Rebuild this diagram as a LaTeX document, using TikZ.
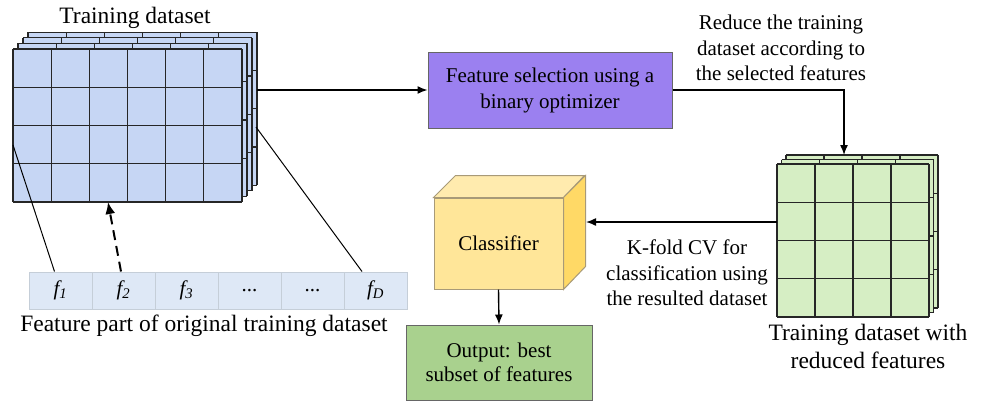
\documentclass[tikz,border=0pt]{standalone}
\usepackage{fontspec}
\setmainfont{Liberation Serif}[Ligatures=TeX]
\newfontfamily\tnr{Liberation Serif}
\usetikzlibrary{arrows.meta,calc}
\definecolor{bluefill}{HTML}{C6D6F4}
\definecolor{greenfill}{HTML}{D6EEC4}
\definecolor{purplefill}{HTML}{9B80F0}
\definecolor{stripfill}{HTML}{DEE8F6}
\definecolor{stripline}{HTML}{C5CED8}
\definecolor{cubefront}{HTML}{FFE699}
\definecolor{cubetop}{HTML}{FFEBAE}
\definecolor{cubeside}{HTML}{FFD966}
\definecolor{cubeline}{HTML}{A89A78}
\definecolor{outfill}{HTML}{A9D18E}
\tikzset{
  gridline/.style={line width=1.3pt, draw=black!85},
  arr/.style={line width=1.4pt, -{Latex[length=10pt,width=8pt]}},
  plain/.style={line width=1pt},
  bigtxt/.style={font=\tnr\fontsize{23.5}{28}\selectfont, align=center, inner sep=0pt},
  txt/.style={font=\tnr\fontsize{21}{25.5}\selectfont, align=center, inner sep=0pt},
  cell/.style={draw=stripline, fill=stripfill, line width=1pt, minimum width=63pt, minimum height=37pt, inner sep=0pt, font=\tnr\fontsize{21}{25}\selectfont\itshape},
  boxnode/.style={draw=black!60, line width=1pt, align=center, inner sep=0pt, font=\tnr\fontsize{21}{26}\selectfont}
}
\begin{document}
\begin{tikzpicture}[x=1pt,y=-1pt]
\useasboundingbox (0,0) rectangle (984,402);

% ---- blue training dataset (4 layers) ----
\foreach \k in {3,2,1,0} {
  \begin{scope}[shift={(5*\k,-5.6*\k)}]
    \fill[bluefill] (13,49) rectangle (242,202);
    \foreach \i in {0,...,6} \draw[gridline] (13+\i*38.1667,49) -- (13+\i*38.1667,202);
    \foreach \j in {0,...,4} \draw[gridline] (13,49+\j*38.25) -- (242,49+\j*38.25);
  \end{scope}
}
\node[bigtxt] (tdtitle) at (135,18) {Training dataset};

% ---- feature strip ----
\node[cell] (f1) at (60.5,290.5) {f\textsubscript{1}};
\node[cell] (f2) at (123.5,290.5) {f\textsubscript{2}};
\node[cell] (f3) at (186.5,290.5) {f\textsubscript{3}};
\node[cell,font=\tnr\fontsize{21}{25}\selectfont] (f4) at (249.5,290.5) {...};
\node[cell,font=\tnr\fontsize{21}{25}\selectfont] (f5) at (312.5,290.5) {...};
\node[cell] (f6) at (375.5,290.5) {f\textsubscript{D}};
\node[bigtxt] (fcap) at (204,326) {Feature part of original training dataset};

\coordinate (tdL) at (13,145);
\coordinate (tdRb) at (256,127);
\coordinate (tdB) at (108,202);
\coordinate (tdR) at (257,90);
\draw[plain] (tdL) -- ([xshift=-6pt]f1.north);
\draw[plain] (tdRb) -- ([xshift=-13.5pt]f6.north);
\draw[line width=2pt, dash pattern=on 10pt off 6pt, -{Latex[length=12pt,width=10pt]}] ([xshift=-2.5pt]f2.north) -- (tdB);

% ---- feature selection box ----
\node[boxnode, fill=purplefill, minimum width=244pt, minimum height=76pt] (fs) at (550,90) {Feature selection using a\\binary optimizer};
\draw[arr] (tdR) -- (fs.west);

\node[txt] (redtxt) at (781,48) {Reduce the training\\dataset according to\\the selected features};

% ---- green reduced dataset (3 layers) ----
\foreach \k in {2,1,0} {
  \begin{scope}[shift={(4.5*\k,-4.5*\k)}]
    \fill[greenfill] (777,164) rectangle (929,317);
    \foreach \i in {0,...,4} \draw[gridline] (777+\i*38,164) -- (777+\i*38,317);
    \foreach \j in {0,...,4} \draw[gridline] (777,164+\j*38.25) -- (929,164+\j*38.25);
  \end{scope}
}
\coordinate (gdTop) at (844,155);
\coordinate (gdL) at (777,222);
\draw[arr] (fs.east) -| (gdTop);
\node[bigtxt] (gdcap) at (868,346) {Training dataset with\\reduced features};

% ---- classifier cube ----
\node[draw=cubeline, fill=cubefront, line width=1pt, minimum width=129pt, minimum height=91pt, inner sep=0pt, font=\tnr\fontsize{21}{25}\selectfont] (cls) at (498.5,243.5) {Classifier};
\fill[cubetop, draw=cubeline, line width=1pt] (cls.north west) -- ++(22,-22) -- ++(129,0) -- (cls.north east) -- cycle;
\fill[cubeside, draw=cubeline, line width=1pt] (cls.north east) -- ++(22,-22) -- ++(0,91) -- (cls.south east) -- cycle;
\coordinate (clsR) at (586,222);
\draw[arr] (gdL) -- (clsR);
\node[txt] (kfold) at (687,273) {K-fold CV for\\classification using\\the resulted dataset};

% ---- output ----
\node[boxnode, fill=outfill, minimum width=186pt, minimum height=75pt, font=\tnr\fontsize{21}{24}\selectfont] (out) at (499,362.5) {Output: best\\subset of features};
\draw[arr] (cls.south) -- (out.north);
\end{tikzpicture}
\end{document}
